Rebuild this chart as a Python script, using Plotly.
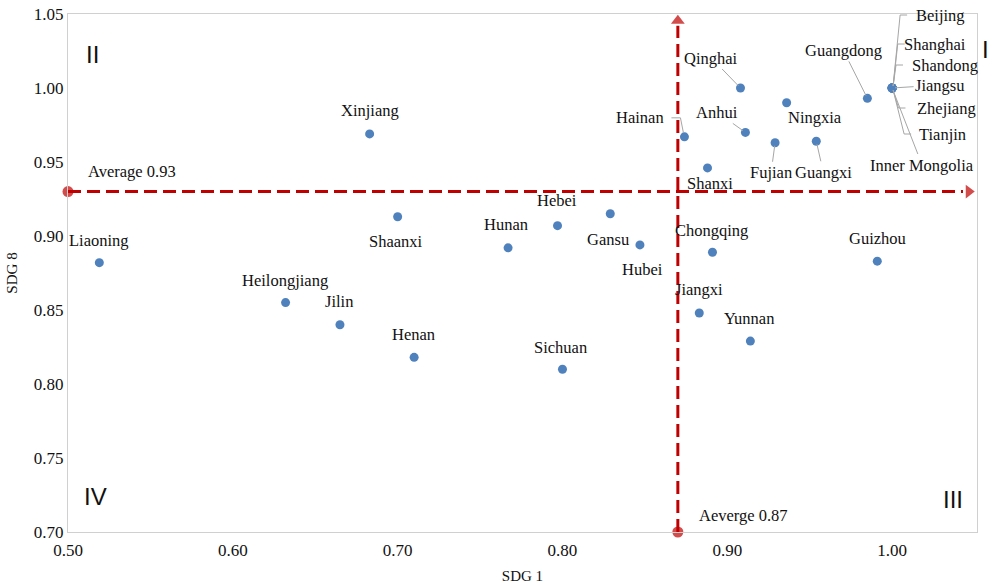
import plotly.graph_objects as go

# ---- data -------------------------------------------------------------
provinces = ["Liaoning", "Heilongjiang", "Jilin", "Henan", "Xinjiang", "Shaanxi",
             "Hunan", "Hebei", "Gansu", "Hubei", "Sichuan", "Hainan", "Qinghai",
             "Anhui", "Ningxia", "Fujian", "Guangxi", "Shanxi", "Chongqing",
             "Jiangxi", "Yunnan", "Guizhou", "Guangdong", "Beijing", "Shanghai",
             "Shandong", "Jiangsu", "Zhejiang", "Tianjin", "Inner Mongolia"]
sdg1 = [0.519, 0.632, 0.665, 0.710, 0.683, 0.700,
        0.767, 0.797, 0.829, 0.847, 0.800, 0.874, 0.908,
        0.911, 0.936, 0.929, 0.954, 0.888, 0.891,
        0.883, 0.914, 0.991, 0.985, 1.000, 1.000,
        1.000, 1.000, 1.000, 1.000, 1.000]
sdg8 = [0.882, 0.855, 0.840, 0.818, 0.969, 0.913,
        0.892, 0.907, 0.915, 0.894, 0.810, 0.967, 1.000,
        0.970, 0.990, 0.963, 0.964, 0.946, 0.889,
        0.848, 0.829, 0.883, 0.993, 1.000, 1.000,
        1.000, 1.000, 1.000, 1.000, 1.000]
avg_sdg1 = 0.87
avg_sdg8 = 0.93
x_ticks = [0.50, 0.60, 0.70, 0.80, 0.90, 1.00]
y_ticks = [0.70, 0.75, 0.80, 0.85, 0.90, 0.95, 1.00, 1.05]
quadrants = ["I", "II", "III", "IV"]

# ---- layout geometry ----------------------------------------------------
W, H = 989, 585
M = dict(l=68, r=12, t=14, b=53)
X_RANGE = [0.50, 1.0515]
Y_RANGE = [0.70, 1.05]
px_per_x = (W - M["l"] - M["r"]) / (X_RANGE[1] - X_RANGE[0])
px_per_y = (H - M["t"] - M["b"]) / (Y_RANGE[1] - Y_RANGE[0])

SERIF = "Liberation Serif, Times New Roman, serif"
SANS = "Liberation Sans, Arial, sans-serif"
RED = "#C00000"
BLUE = "#4F81BD"
LEADER = "#A6A6A6"
LABEL_FONT = dict(family=SERIF, size=16.5, color="#111")

# label offsets in pixels (dx right, dy down) and leader style
label_pos = {
    "Liaoning": (0, -22, None), "Heilongjiang": (-1, -22, None),
    "Jilin": (-1, -23, None), "Henan": (-1, -23, None),
    "Xinjiang": (0, -23, None), "Shaanxi": (-2, 25, None),
    "Hunan": (-2, -23, None), "Hebei": (-1, -25, None),
    "Gansu": (-2, 26, None), "Hubei": (3, 25, None),
    "Sichuan": (-2, -22, None), "Hainan": (-44, -19, "elbow"),
    "Qinghai": (-29, -30, "line"), "Anhui": (-28, -20, "line"),
    "Ningxia": (28, 15, None), "Fujian": (-4, 30, "line"),
    "Guangxi": (7, 31, "line"), "Shanxi": (2, 16, None),
    "Chongqing": (-1, -22, None), "Jiangxi": (0, -23, None),
    "Yunnan": (-1, -23, None), "Guizhou": (0, -23, None),
    "Guangdong": (-24, -48, "line"), "Beijing": (48, -73, "trunk"),
    "Shanghai": (43, -44, "trunk"), "Shandong": (53, -23, "trunk"),
    "Jiangsu": (48, -3, "line"), "Zhejiang": (54, 20, "trunk"),
    "Tianjin": (50, 46, "trunk"), "Inner Mongolia": (30, 77, "line"),
}


def to_data(x0, y0, dx, dy):
    """Pixel offset (dx right, dy down) from a data point -> data coords."""
    return x0 + dx / px_per_x, y0 - dy / px_per_y


fig = go.Figure()

# average reference lines
fig.add_trace(go.Scatter(
    x=[X_RANGE[0], 1.043], y=[avg_sdg8, avg_sdg8], mode="lines",
    line=dict(color=RED, width=3, dash="13px,6px"), hoverinfo="skip",
    showlegend=False, cliponaxis=False))
fig.add_trace(go.Scatter(
    x=[avg_sdg1, avg_sdg1], y=[Y_RANGE[0], 1.042], mode="lines",
    line=dict(color=RED, width=3, dash="13px,6px"), hoverinfo="skip",
    showlegend=False, cliponaxis=False))
fig.add_trace(go.Scatter(
    x=[X_RANGE[0], avg_sdg1, 1.0465, avg_sdg1],
    y=[avg_sdg8, Y_RANGE[0], avg_sdg8, 1.0455],
    mode="markers", hoverinfo="skip", showlegend=False, cliponaxis=False,
    marker=dict(color=RED, size=[11, 11, 12, 12],
                symbol=["circle", "circle", "triangle-right", "triangle-up"],
                line=dict(width=0))))

# provinces
fig.add_trace(go.Scatter(
    x=sdg1, y=sdg8, mode="markers", text=provinces, showlegend=False,
    marker=dict(color=BLUE, size=9, line=dict(width=0)),
    hovertemplate="%{text}<br>SDG 1: %{x:.2f}<br>SDG 8: %{y:.2f}<extra></extra>"))

annotations = []
shapes = []
for name, x, y in zip(provinces, sdg1, sdg8):
    dx, dy, kind = label_pos[name]
    if kind == "line":
        annotations.append(dict(
            x=x, y=y, ax=dx, ay=dy, text=name, showarrow=True, arrowhead=0,
            arrowwidth=1, arrowcolor=LEADER, standoff=3, font=LABEL_FONT))
    else:
        annotations.append(dict(
            x=x, y=y, xshift=dx, yshift=-dy, text=name, showarrow=False,
            font=LABEL_FONT))
    if kind == "elbow":
        pts = [(-13, dy), (-4, dy), (-1, -4)]
    elif kind == "trunk":
        tx = 2 + abs(dy) * 6 / 73 if dy < 0 else 2 + dy * 10 / 46
        pts = [(1, -2 if dy < 0 else 2), (tx, dy), (tx + 7, dy)]
    else:
        pts = None
    if pts:
        coords = [to_data(x, y, px, py) for px, py in pts]
        path = "M " + " L ".join(f"{cx},{cy}" for cx, cy in coords)
        shapes.append(dict(type="path", path=path, xref="x", yref="y",
                           line=dict(color=LEADER, width=1)))

# average captions
annotations.append(dict(x=X_RANGE[0], y=avg_sdg8, xshift=18, yshift=20,
                        text="Average 0.93", showarrow=False, xanchor="left",
                        font=LABEL_FONT))
annotations.append(dict(x=avg_sdg1, y=Y_RANGE[0], xshift=19, yshift=17,
                        text="Aeverge 0.87", showarrow=False, xanchor="left",
                        font=LABEL_FONT))

# quadrant numerals
quad_pos = {"I": (1.0, 0.962, "left", 3), "II": (0.0, 0.952, "left", 16),
            "III": (1.0, 0.033, "right", -12), "IV": (0.0, 0.038, "left", 14)}
for q in quadrants:
    qx, qy, anchor, shift = quad_pos[q]
    annotations.append(dict(x=qx, y=qy, xref="paper", yref="paper", text=q,
                            xanchor=anchor, xshift=shift, showarrow=False,
                            font=dict(family=SANS, size=24, color="#111")))

axis_common = dict(showgrid=False, zeroline=False, showline=True, mirror=True,
                   linecolor="#D0D0D0", linewidth=1, ticks="", automargin=False,
                   tickfont=dict(family=SERIF, size=17, color="#111"))
fig.update_layout(
    width=W, height=H, margin=M, paper_bgcolor="white", plot_bgcolor="white",
    xaxis=dict(range=X_RANGE, tickvals=x_ticks,
               ticktext=[f"{v:.2f}" for v in x_ticks], ticklabelstandoff=3,
               title=dict(text="SDG 1", standoff=11,
                          font=dict(family=SERIF, size=15, color="#111")),
               **axis_common),
    yaxis=dict(range=Y_RANGE, tickvals=y_ticks,
               ticktext=[f"{v:.2f}" for v in y_ticks],
               title=dict(text="SDG 8", standoff=12,
                          font=dict(family=SERIF, size=15, color="#111")),
               **axis_common),
    annotations=annotations, shapes=shapes)

fig.write_html("out.html")
